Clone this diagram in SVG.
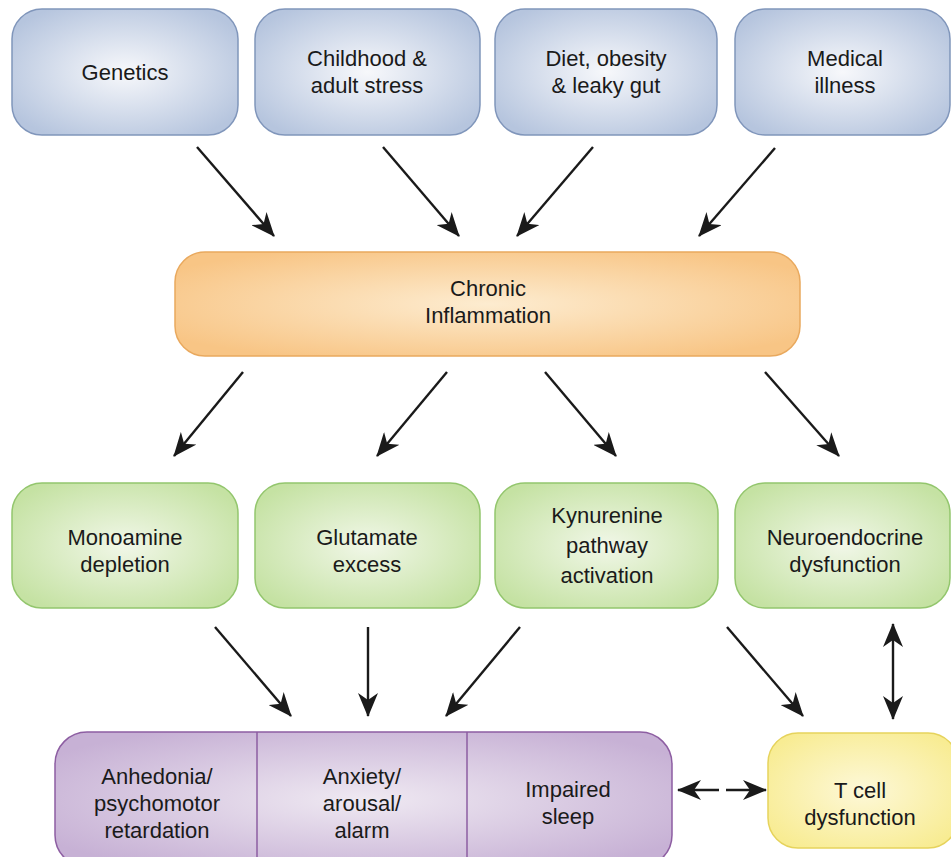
<svg xmlns="http://www.w3.org/2000/svg" width="951" height="857" viewBox="0 0 951 857">
<defs>
<radialGradient id="gBlue" cx="0.5" cy="0.5" r="0.6"><stop offset="0" stop-color="#f7f8fb"/><stop offset="1" stop-color="#b6c5de"/></radialGradient>
<radialGradient id="gOrange" cx="0.5" cy="0.5" r="0.6"><stop offset="0" stop-color="#fdecd0"/><stop offset="1" stop-color="#f8c585"/></radialGradient>
<radialGradient id="gGreen" cx="0.5" cy="0.5" r="0.6"><stop offset="0" stop-color="#f1f7e8"/><stop offset="1" stop-color="#c5e2a3"/></radialGradient>
<radialGradient id="gPurple" cx="0.5" cy="0.5" r="0.6"><stop offset="0" stop-color="#efe9f2"/><stop offset="1" stop-color="#c7b1d5"/></radialGradient>
<radialGradient id="gYellow" cx="0.5" cy="0.5" r="0.6"><stop offset="0" stop-color="#fdf8d8"/><stop offset="1" stop-color="#f8ec93"/></radialGradient>
<marker id="ah" viewBox="0 0 24 20" refX="23" refY="10" markerWidth="24" markerHeight="20" markerUnits="userSpaceOnUse" orient="auto-start-reverse">
<path d="M0,0 L24,10 L0,20 L7,10 z" fill="#1a1a1a"/>
</marker>
</defs>
<style>
text{font-family:"Liberation Sans",Arial,sans-serif;font-size:22px;fill:#1a1a1a;text-anchor:middle}
.blue{fill:url(#gBlue);stroke:#8096bb;stroke-width:1.5}
.orange{fill:url(#gOrange);stroke:#e9a95e;stroke-width:1.5}
.green{fill:url(#gGreen);stroke:#93c66d;stroke-width:1.5}
.purple{fill:url(#gPurple);stroke:#8d5ea2;stroke-width:1.5}
.yellow{fill:url(#gYellow);stroke:#e6d35c;stroke-width:1.5}
.div{stroke:#8d5ea2;stroke-width:1.5}
.c{stroke:#1a1a1a;stroke-width:2.4;fill:none;marker-end:url(#ah)}
</style>
<rect width="951" height="857" fill="#ffffff"/>
<g id="genetics"><rect class="blue" x="12" y="9" width="226" height="126" rx="30"/><text x="125" y="80">Genetics</text></g>
<g id="childhood"><rect class="blue" x="255" y="9" width="225" height="126" rx="30"/><text x="367" y="66">Childhood &amp;</text><text x="367" y="93">adult stress</text></g>
<g id="diet"><rect class="blue" x="495" y="9" width="222" height="126" rx="30"/><text x="606" y="66">Diet, obesity</text><text x="606" y="93">&amp; leaky gut</text></g>
<g id="medical"><rect class="blue" x="735" y="9" width="215" height="126" rx="30"/><text x="845" y="66">Medical</text><text x="845" y="93">illness</text></g>
<g id="chronic"><rect class="orange" x="175" y="252" width="625" height="104" rx="30"/><text x="488" y="296">Chronic</text><text x="488" y="323">Inflammation</text></g>
<g id="monoamine"><rect class="green" x="12" y="483" width="226" height="125" rx="30"/><text x="125" y="545">Monoamine</text><text x="125" y="572">depletion</text></g>
<g id="glutamate"><rect class="green" x="255" y="483" width="225" height="125" rx="30"/><text x="367" y="545">Glutamate</text><text x="367" y="572">excess</text></g>
<g id="kynurenine"><rect class="green" x="495" y="483" width="223" height="125" rx="30"/><text x="607" y="523">Kynurenine</text><text x="607" y="553">pathway</text><text x="607" y="583">activation</text></g>
<g id="neuroendocrine"><rect class="green" x="735" y="483" width="215" height="125" rx="30"/><text x="845" y="545">Neuroendocrine</text><text x="845" y="572">dysfunction</text></g>
<g id="symptoms"><rect class="purple" x="55" y="732" width="617" height="135" rx="32"/>
<line class="div" x1="257" y1="732" x2="257" y2="857"/><line class="div" x1="467" y1="732" x2="467" y2="857"/>
<text x="157" y="784">Anhedonia/</text><text x="157" y="811">psychomotor</text><text x="157" y="838">retardation</text>
<text x="362" y="784">Anxiety/</text><text x="362" y="811">arousal/</text><text x="362" y="838">alarm</text>
<text x="568" y="797">Impaired</text><text x="568" y="824">sleep</text></g>
<g id="tcell"><rect class="yellow" x="768" y="733" width="190" height="115" rx="30"/><text x="860" y="798">T cell</text><text x="860" y="825">dysfunction</text></g>
<g id="connectors">
<line class="c" x1="197" y1="147" x2="274" y2="236"/>
<line class="c" x1="383" y1="147" x2="459" y2="236"/>
<line class="c" x1="593" y1="147" x2="517" y2="236"/>
<line class="c" x1="775" y1="148" x2="699" y2="236"/>
<line class="c" x1="243" y1="372" x2="174" y2="456"/>
<line class="c" x1="447" y1="372" x2="377" y2="456"/>
<line class="c" x1="545" y1="372" x2="616" y2="456"/>
<line class="c" x1="765" y1="372" x2="839" y2="456"/>
<line class="c" x1="215" y1="627" x2="291" y2="716"/>
<line class="c" x1="368" y1="627" x2="368" y2="716"/>
<line class="c" x1="520" y1="627" x2="446" y2="716"/>
<line class="c" x1="727" y1="627" x2="803" y2="716"/>
<line class="c" x1="893" y1="624" x2="893" y2="719" marker-start="url(#ah)"/>
<line class="c" x1="719" y1="790" x2="678" y2="790"/>
<line class="c" x1="726" y1="790" x2="766" y2="790"/>
</g>
</svg>
